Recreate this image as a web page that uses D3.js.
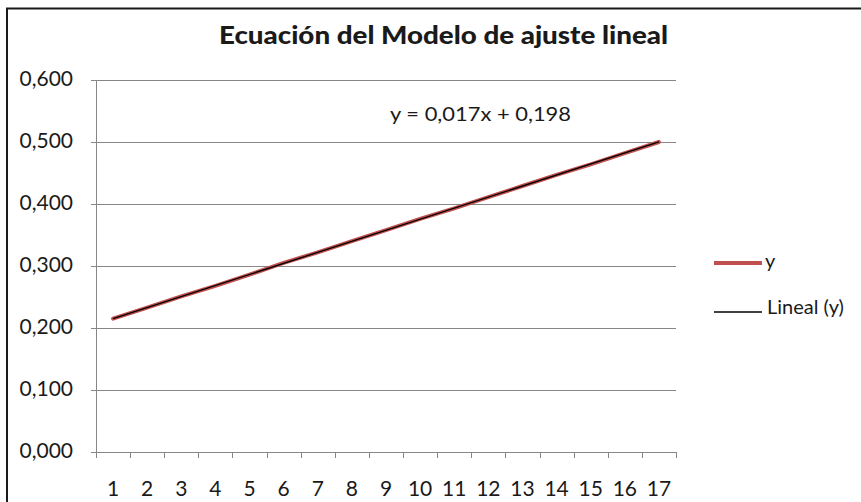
<!DOCTYPE html>
<html>
<head>
<meta charset="utf-8">
<script src="https://cdn.jsdelivr.net/npm/d3@7"></script>
<style>
body { margin:0; background:#fff; }
text { font-family: Lato, "Open Sans", sans-serif; fill:#1a1a1a; }
</style>
</head>
<body>
<script>
var categories = [1,2,3,4,5,6,7,8,9,10,11,12,13,14,15,16,17];
var yValues = [0.215,0.233,0.251,0.268,0.286,0.305,0.322,0.340,0.358,0.376,0.393,0.411,0.429,0.447,0.464,0.482,0.500];
var yTicks = [0,0.1,0.2,0.3,0.4,0.5,0.6];

var width = 861, height = 502;
var margin = {left:96, right:185, top:80, bottom:50};

var svg = d3.select("body").append("svg").attr("width",width).attr("height",height);

// chart frame (left + top edges visible)
svg.append("rect").attr("x",7).attr("y",8.5).attr("width",900).attr("height",600)
	.attr("fill","none").attr("stroke","#1a1a1a").attr("stroke-width",2);

var x = d3.scaleBand().domain(categories).range([margin.left, width-margin.right]);
var y = d3.scaleLinear().domain([0,0.6]).range([height-margin.bottom, margin.top]);

var fmt = function(d){ return d3.format(".3f")(d).replace(".",","); };

// gridlines
svg.append("g").selectAll("line").data(yTicks).enter().append("line")
	.attr("x1",margin.left-5).attr("x2",width-margin.right)
	.attr("y1",function(d){ return Math.round(y(d))+0.5; })
	.attr("y2",function(d){ return Math.round(y(d))+0.5; })
	.attr("stroke","#878787").attr("stroke-width",1);

// y axis
svg.append("line").attr("x1",margin.left+0.5).attr("x2",margin.left+0.5)
	.attr("y1",y(0.6)).attr("y2",y(0)+1).attr("stroke","#878787");
svg.append("g").selectAll("text").data(yTicks).enter().append("text")
	.attr("x",73).attr("y",function(d){ return y(d)+1; })
	.attr("text-anchor","end").attr("dominant-baseline","middle")
	.style("font-size","21px").text(fmt);

// x axis ticks at band edges
var edges = categories.map(function(c){ return x(c); }).concat([width-margin.right]);
svg.append("g").selectAll("line").data(edges).enter().append("line")
	.attr("x1",function(d){ return Math.round(d)+0.5; }).attr("x2",function(d){ return Math.round(d)+0.5; })
	.attr("y1",y(0)).attr("y2",y(0)+6).attr("stroke","#878787");
svg.append("g").selectAll("text").data(categories).enter().append("text")
	.attr("x",function(d){ return x(d)+x.bandwidth()/2; }).attr("y",491)
	.attr("text-anchor","middle").attr("dominant-baseline","middle")
	.style("font-size","21px").text(function(d){ return d; });

// series
var line = d3.line()
	.x(function(d,i){ return x(categories[i])+x.bandwidth()/2; })
	.y(function(d){ return y(d); });
svg.append("path").datum(yValues).attr("d",line)
	.attr("fill","none").attr("stroke","#c0504d").attr("stroke-width",4).attr("stroke-linecap","round");

// linear trendline (least squares)
var n = yValues.length, sx=0, sy=0, sxy=0, sxx=0;
yValues.forEach(function(v,i){ var xi=i+1; sx+=xi; sy+=v; sxy+=xi*v; sxx+=xi*xi; });
var slope = (n*sxy - sx*sy)/(n*sxx - sx*sx);
var intercept = (sy - slope*sx)/n;
var trend = [1,n].map(function(xi){ return slope*xi+intercept; });
svg.append("line")
	.attr("x1",x(1)+x.bandwidth()/2).attr("y1",y(trend[0]))
	.attr("x2",x(n)+x.bandwidth()/2).attr("y2",y(trend[1]))
	.attr("stroke","#000").attr("stroke-width",1.3);

svg.append("text").attr("x",390).attr("y",116)
	.attr("dominant-baseline","middle").style("font-size","19px")
	.attr("textLength",181).attr("lengthAdjust","spacingAndGlyphs")
	.text("y = 0,017x + 0,198");

// title
svg.append("text").attr("x",219).attr("y",38)
	.attr("dominant-baseline","middle").style("font-size","24px").style("font-weight","900")
	.attr("textLength",449).attr("lengthAdjust","spacingAndGlyphs")
	.attr("fill","#000").text("Ecuación del Modelo de ajuste lineal");

// legend
var legend = [{name:"y",color:"#c0504d",w:4},{name:"Lineal (y)",color:"#000",w:1.3}];
var lg = svg.append("g").selectAll("g").data(legend).enter().append("g")
	.attr("transform",function(d,i){ return "translate(714,"+(263+i*49)+")"; });
lg.append("line").attr("x1",0).attr("x2",48)
	.attr("stroke",function(d){ return d.color; }).attr("stroke-width",function(d){ return d.w; });
lg.append("text").attr("x",function(d,i){ return i ? 53 : 51; }).attr("y",function(d,i){ return i ? -3 : 0; })
	.attr("dominant-baseline","middle")
	.style("font-size","20px").text(function(d){ return d.name; });
</script>
</body>
</html>
